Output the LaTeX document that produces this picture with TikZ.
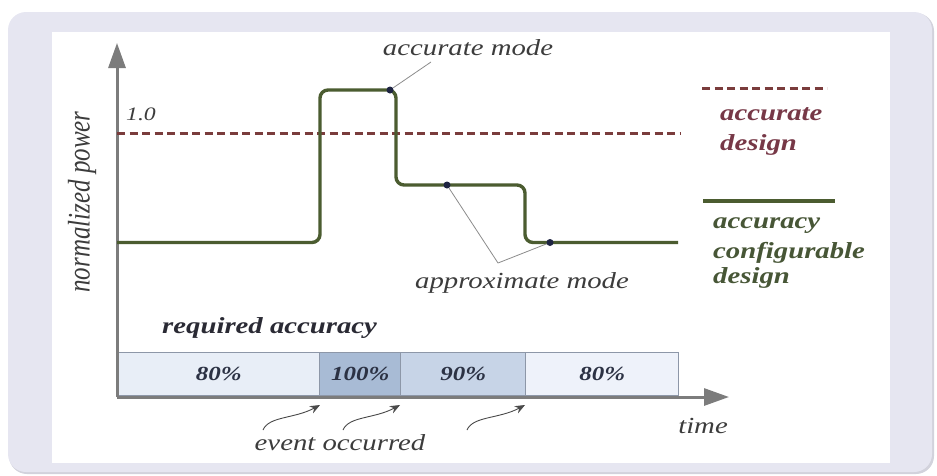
\documentclass[tikz,border=0pt]{standalone}
\usepackage{fontspec}
\setmainfont{Liberation Serif}[FakeStretch=1.25,
  ItalicFont=Liberation Serif Italic, BoldItalicFont=Liberation Serif Bold Italic]
\newfontfamily\plainserif{Liberation Serif}[ItalicFont=Liberation Serif Italic]
\usetikzlibrary{arrows.meta}

\definecolor{framelav}{HTML}{E6E6F1}
\definecolor{frameshadow}{HTML}{D2D2DC}
\definecolor{axisgray}{HTML}{7C7C7C}
\definecolor{refred}{HTML}{7A3C3C}
\definecolor{curvegreen}{HTML}{4B5C30}
\definecolor{dotblue}{HTML}{1E2442}
\definecolor{leadergray}{HTML}{8C8C8C}
\definecolor{labelgray}{HTML}{3C3C3C}
\definecolor{darktext}{HTML}{2A2A34}
\definecolor{pcttext}{HTML}{2C3244}
\definecolor{legendred}{HTML}{773847}
\definecolor{legendgreen}{HTML}{475636}
\definecolor{segborder}{HTML}{8D97A8}
\definecolor{segA}{HTML}{E8EEF7}
\definecolor{segB}{HTML}{A8BBD5}
\definecolor{segC}{HTML}{C7D4E7}
\definecolor{segD}{HTML}{EEF2FA}
\definecolor{eventgray}{HTML}{4A4A4A}

\begin{document}
\begin{tikzpicture}[x=1pt,y=-1pt,
  lbl/.style={inner sep=0pt, text=labelgray, font=\fontsize{23}{28}\selectfont\itshape},
  boldlbl/.style={inner sep=0pt, font=\fontsize{23}{28}\selectfont\bfseries\itshape},
  segbox/.style={draw=segborder, line width=1.4pt, inner sep=0pt, anchor=south west,
    minimum height=43pt, text=pcttext, font=\fontsize{20}{24}\selectfont\bfseries\itshape},
  axisline/.style={draw=axisgray, line width=3pt, -{Triangle[length=25pt,width=17pt]}},
  powercurve/.style={draw=curvegreen, line width=3.4pt, rounded corners=8pt},
  refline/.style={draw=refred, line width=3pt, dash pattern=on 8pt off 4.5pt},
  modedot/.style={circle, fill=dotblue, inner sep=0pt, minimum size=7pt},
  leader/.style={draw=leadergray, line width=0.8pt},
  eventarrow/.style={draw=eventgray, line width=0.9pt, -{Stealth[length=10pt,width=8pt]}},
]
\useasboundingbox (0,0) rectangle (937,475);

% panel background
\fill[frameshadow, rounded corners=18pt] (9,13) rectangle (934,474);
\fill[framelav, rounded corners=18pt] (8,12) rectangle (932,472);
\fill[white] (52,32) rectangle (890,463);

% required accuracy bar
\node[segbox, fill=segA, minimum width=202pt] (segA) at (117,396) {80\%};
\node[segbox, fill=segB, minimum width=81pt] (segB) at (319,396) {100\%};
\node[segbox, fill=segC, minimum width=125pt] (segC) at (400,396) {90\%};
\node[segbox, fill=segD, minimum width=153pt] (segD) at (525,396) {80\%};
\node[boldlbl, text=darktext, anchor=base west] (reqacc) at (162,333) {required accuracy};

% axes
\coordinate (origin) at (117,397);
\coordinate (ytip) at (117,43);
\coordinate (xtip) at (729,397);
\draw[axisline] (origin) -- (ytip);
\draw[axisline] (origin) -- (xtip);

% reference level of the accurate design
\coordinate (refL) at (117,133);
\coordinate (refR) at (681,133);
\draw[refline] (refL) -- (refR);
\node[inner sep=0pt, text=labelgray, font=\fontsize{19}{23}\selectfont\itshape, anchor=base] (onelbl) at (141,120) {1.0};

% power of the accuracy configurable design
\draw[powercurve] (117,242.5) -- (320,242.5) -- (320,90) -- (396,90) -- (396,185)
  -- (525,185) -- (525,242.5) -- (678,242.5);

% operating modes
\node[modedot] (accdot) at (390,90) {};
\node[modedot] (apxdotA) at (447,185) {};
\node[modedot] (apxdotB) at (550,242.5) {};
\coordinate (accknee) at (431,62);
\coordinate (apxknee) at (498,263);
\draw[leader] (accdot) -- (accknee);
\draw[leader] (apxdotA) -- (apxknee) -- (apxdotB);
\node[lbl, anchor=base] (accmode) at (468,55) {accurate mode};
\node[lbl, anchor=base] (apxmode) at (522,288) {approximate mode};

% axis titles
\begin{scope}[shift={(82,202)}, xscale=1.25]
  \node[rotate=90, transform shape, inner sep=0pt, text=labelgray,
    font=\plainserif\fontsize{25}{30}\selectfont\itshape] (ylabel) at (0,0) {normalized power};
\end{scope}
\node[lbl, anchor=base] (timelbl) at (703,433) {time};

% events
\coordinate (evtipA) at (320,405);
\coordinate (evtipB) at (400,405);
\coordinate (evtipC) at (525,405);
\coordinate (evtailA) at (263,430);
\coordinate (evtailB) at (343,430);
\coordinate (evtailC) at (467,430);
\draw[eventarrow] (evtailA) .. controls +(6,-14) and +(-26,14) .. (evtipA);
\draw[eventarrow] (evtailB) .. controls +(6,-14) and +(-26,14) .. (evtipB);
\draw[eventarrow] (evtailC) .. controls +(6,-14) and +(-26,14) .. (evtipC);
\node[lbl, anchor=base] (eventlbl) at (340,450) {event occurred};

% legend
\coordinate (legrefL) at (702,88);
\coordinate (legrefR) at (827,88);
\draw[refline] (legrefL) -- (legrefR);
\node[boldlbl, text=legendred, anchor=base west] (legaccA) at (720,120) {accurate};
\node[boldlbl, text=legendred, anchor=base west] (legaccB) at (720,150) {design};
\coordinate (legcfgL) at (703,201);
\coordinate (legcfgR) at (835,201);
\draw[draw=curvegreen, line width=3.4pt] (legcfgL) -- (legcfgR);
\node[boldlbl, text=legendgreen, anchor=base west] (legcfgA) at (713,228) {accuracy};
\node[boldlbl, text=legendgreen, anchor=base west] (legcfgB) at (713,258) {configurable};
\node[boldlbl, text=legendgreen, anchor=base west] (legcfgC) at (713,283) {design};
\end{tikzpicture}
\end{document}
